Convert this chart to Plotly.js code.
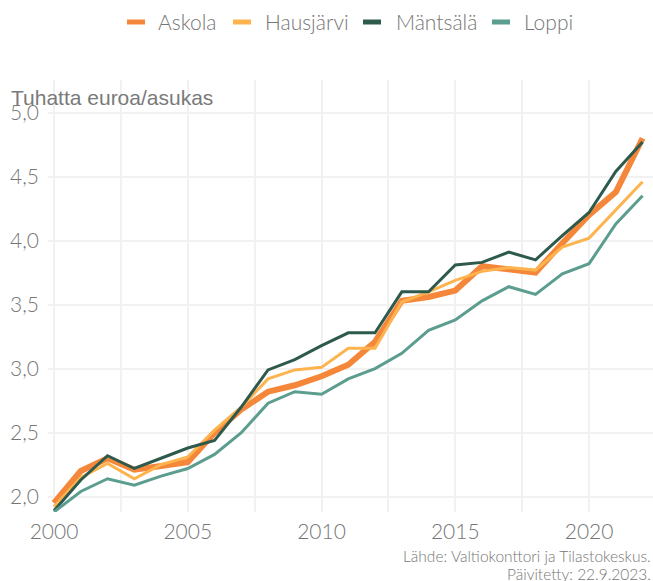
<!DOCTYPE html>
<html>
<head>
<meta charset="utf-8">
<script src="https://cdn.plot.ly/plotly-3.0.1.min.js"></script>
<style>html,body{margin:0;padding:0;background:#fff;}#chart{width:653px;height:581px;}</style>
</head>
<body>
<div id="chart"></div>
<script>
const years = [2000,2001,2002,2003,2004,2005,2006,2007,2008,2009,2010,2011,2012,2013,2014,2015,2016,2017,2018,2019,2020,2021,2022];
const askola    = [1.95,2.20,2.30,2.21,2.24,2.27,2.50,2.68,2.82,2.87,2.94,3.03,3.21,3.53,3.56,3.61,3.80,3.77,3.75,3.98,4.20,4.38,4.80];
const hausjarvi = [1.92,2.15,2.26,2.14,2.25,2.31,2.52,2.70,2.92,2.99,3.01,3.16,3.16,3.52,3.60,3.69,3.76,3.79,3.77,3.95,4.02,4.24,4.46];
const mantsala  = [1.89,2.13,2.32,2.22,2.30,2.38,2.44,2.70,2.99,3.07,3.18,3.28,3.28,3.60,3.60,3.81,3.83,3.91,3.85,4.04,4.22,4.54,4.77];
const loppi     = [1.88,2.04,2.14,2.09,2.16,2.22,2.33,2.50,2.73,2.82,2.80,2.92,3.00,3.12,3.30,3.38,3.53,3.64,3.58,3.74,3.82,4.13,4.35];
const seriesNames = ["Askola","Hausjärvi","Mäntsälä","Loppi"];
const yTickVals = [2.0,2.5,3.0,3.5,4.0,4.5,5.0];
const yTickText = ["2,0","2,5","3,0","3,5","4,0","4,5","5,0"];
const xTickVals = [2000,2005,2010,2015,2020];
const yTitle = "Tuhatta euroa/asukas";
const caption1 = "Lähde: Valtiokonttori ja Tilastokeskus.";
const caption2 = "Päivitetty: 22.9.2023.";

const seriesData = [askola, hausjarvi, mantsala, loppi];
const colors = ["#f5873a","#fdb44f","#2e5a4e","#5b9d8e"];
const widths = [6,3,3,3];

const W = 653, H = 581;
const M = {l:48, r:0, t:80, b:69};
const pw = W - M.l - M.r, ph = H - M.t - M.b;
const px2x = p => (p - M.l) / pw;
const py2y = p => (H - M.b - p) / ph;

const traces = seriesData.map((d,i) => ({
  x: years, y: d, type: "scatter", mode: "lines", name: seriesNames[i],
  line: {color: colors[i], width: widths[i], shape: "linear"},
  showlegend: false, hoverinfo: "x+y+name"
}));

const textColor = "#767676";
const lightFont = "Lato, sans-serif";
const shapes = [];
const annotations = [];
// custom legend
const legSym = [127, 233, 363, 492];
const legTxt = [156, 263, 394, 522];
seriesNames.forEach((n,i) => {
  shapes.push({type:"line", xref:"paper", yref:"paper",
    x0: px2x(legSym[i]), x1: px2x(legSym[i]+18), y0: py2y(22), y1: py2y(22),
    line:{color: colors[i], width: 5}});
  annotations.push({xref:"paper", yref:"paper", x: px2x(legTxt[i]), y: py2y(22),
    xanchor:"left", yanchor:"middle", text: n, showarrow:false,
    font:{family:lightFont, size:21, weight:300, color:textColor}});
});
annotations.push({xref:"paper", yref:"paper", x: px2x(9), y: py2y(97),
  xanchor:"left", yanchor:"middle", text: yTitle, showarrow:false,
  font:{family:"Liberation Sans, Arial, sans-serif", size:21, color:"#7a7a7a"}});
annotations.push({xref:"paper", yref:"paper", x: 1, y: py2y(556),
  xanchor:"right", yanchor:"middle", text: caption1, showarrow:false,
  font:{family:lightFont, size:15.5, weight:300, color:textColor}});
annotations.push({xref:"paper", yref:"paper", x: 1, y: py2y(574),
  xanchor:"right", yanchor:"middle", text: caption2, showarrow:false,
  font:{family:lightFont, size:15.5, weight:300, color:textColor}});

const gridColor = "#f1f1f1";
const layout = {
  width: W, height: H,
  margin: M,
  paper_bgcolor: "#fff", plot_bgcolor: "#fff",
  showlegend: false,
  xaxis: {
    range: [1999.775, 2022.39], tickvals: xTickVals, showgrid: true,
    gridcolor: gridColor, gridwidth: 2, zeroline: false, showline: false, ticks: "",
    minor: {dtick: 2.5, tick0: 2000, showgrid: true, gridcolor: gridColor, gridwidth: 2, ticks: ""},
    tickfont: {family: lightFont, size: 21, weight: 300, color: textColor},
    ticklabelstandoff: 5, fixedrange: true
  },
  yaxis: {
    range: [1.88, 5.255], tickvals: yTickVals, ticktext: yTickText, showgrid: true,
    gridcolor: gridColor, gridwidth: 2, zeroline: false, showline: false, ticks: "",
    tickfont: {family: lightFont, size: 21, weight: 300, color: textColor},
    ticklabelstandoff: 8, fixedrange: true
  },
  shapes: shapes,
  annotations: annotations
};
Plotly.newPlot("chart", traces, layout, {displayModeBar: false, staticPlot: true});
</script>
</body>
</html>
